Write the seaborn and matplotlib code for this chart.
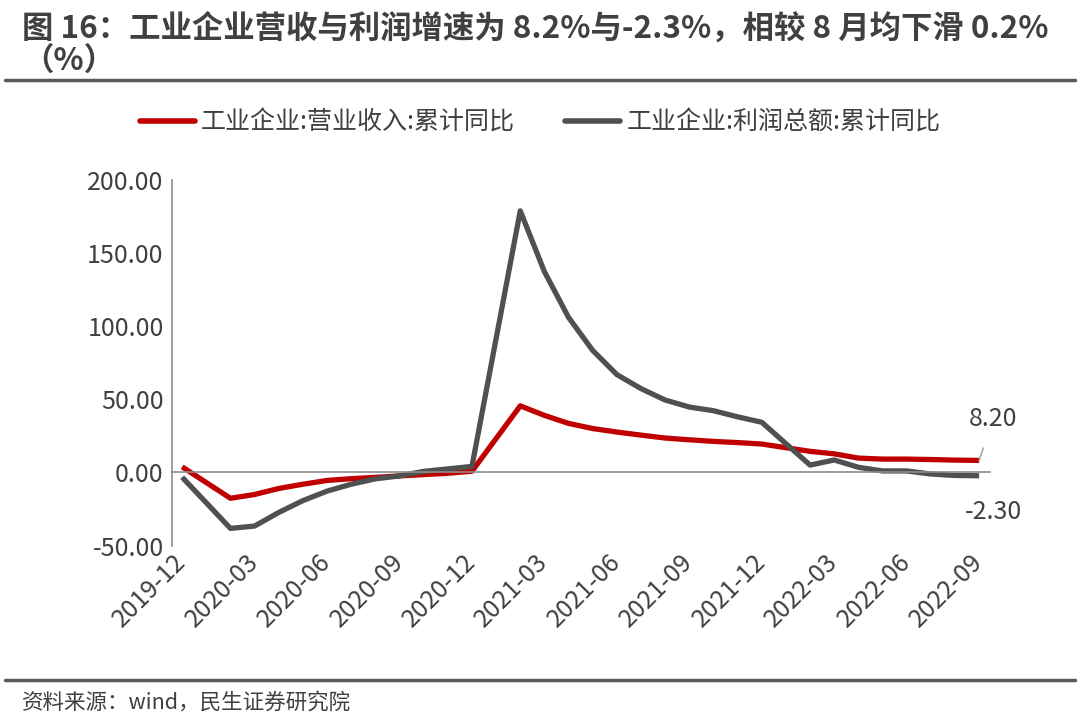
import numpy as np
import pandas as pd
import matplotlib
matplotlib.use("Agg")
import matplotlib.pyplot as plt
from matplotlib.lines import Line2D
import seaborn as sns

# ── Duomenys ────────────────────────────────────────────────────────────────
months = [
    "2019-12",
    "2020-02", "2020-03", "2020-04", "2020-05", "2020-06", "2020-07",
    "2020-08", "2020-09", "2020-10", "2020-11", "2020-12",
    "2021-02", "2021-03", "2021-04", "2021-05", "2021-06", "2021-07",
    "2021-08", "2021-09", "2021-10", "2021-11", "2021-12",
    "2022-02", "2022-03", "2022-04", "2022-05", "2022-06", "2022-07",
    "2022-08", "2022-09",
]
revenue = [
    3.8,
    -17.7, -15.1, -11.0, -8.1, -5.5, -4.3, -3.4, -2.4, -1.5, -0.6, 0.8,
    45.5, 39.0, 33.5, 30.0, 27.6, 25.5, 23.5, 22.3, 21.2, 20.4, 19.4,
    14.4, 12.7, 9.8, 9.1, 9.1, 8.8, 8.4, 8.2,
]
profit = [
    -3.3,
    -38.3, -36.7, -27.4, -19.3, -12.8, -8.1, -4.4, -2.4, 0.7, 2.4, 4.1,
    178.9, 137.3, 106.0, 83.4, 66.9, 57.3, 49.5, 44.7, 42.2, 38.0, 34.3,
    5.0, 8.5, 3.5, 1.0, 1.0, -1.1, -2.1, -2.3,
]
tick_labels = ["2019-12", "2020-03", "2020-06", "2020-09", "2020-12", "2021-03",
               "2021-06", "2021-09", "2021-12", "2022-03", "2022-06", "2022-09"]
series_names = ["工业企业:营业收入:累计同比", "工业企业:利润总额:累计同比"]

RED = "#C00000"
GREY = "#505050"
TXT = "#404040"


def month_pos(m):
    # kategorijų ašis: kiekvienas mėnuo = 1 vienetas nuo 2019-12
    y, mm = m.split("-")
    return (int(y) - 2019) * 12 + int(mm) - 12


df = pd.DataFrame({
    "pos": [month_pos(m) for m in months] * 2,
    "value": revenue + profit,
    "series": [series_names[0]] * len(months) + [series_names[1]] * len(months),
})

sns.set_theme(style="white")
plt.rcParams["font.family"] = ["Noto Sans CJK SC", "DejaVu Sans"]

fig = plt.figure(figsize=(10.8, 7.21), dpi=100)
ax = fig.add_axes([172 / 1080, 1 - 545.5 / 721, (990 - 172) / 1080, (545.5 - 180) / 721])

sns.lineplot(data=df, x="pos", y="value", hue="series",
             palette=[RED, GREY], linewidth=3.8, ax=ax, legend=False,
             solid_capstyle="butt")

ax.set_xlim(-0.42, 33.45)
ax.set_ylim(-50, 200)
ax.set_xlabel("")
ax.set_ylabel("")

# ── Ašys ────────────────────────────────────────────────────────────────────
for s in ["top", "right"]:
    ax.spines[s].set_visible(False)
ax.spines["left"].set_color("#8C8C8C")
ax.spines["left"].set_linewidth(1.2)
ax.spines["bottom"].set_position(("data", 0))
ax.spines["bottom"].set_color("#8C8C8C")
ax.spines["bottom"].set_linewidth(1.2)

ax.set_yticks([-50, 0, 50, 100, 150, 200])
ax.yaxis.set_major_formatter(plt.FuncFormatter(lambda v, _: f"{v:.2f}"))
ax.tick_params(axis="y", length=0, pad=6, labelsize=18, labelcolor=TXT)

ax.set_xticks(np.arange(2.5, 33, 3))
ax.set_xticklabels([])
ax.tick_params(axis="x", length=6, width=1.2, color="#8C8C8C", direction="out")

sec = ax.secondary_xaxis("bottom")
sec.set_xticks([month_pos(m) for m in tick_labels], tick_labels)
sec.spines["bottom"].set_visible(False)
sec.tick_params(length=0, pad=9, labelsize=18, labelcolor=TXT)
for lbl in sec.get_xticklabels():
    lbl.set_rotation(45)
    lbl.set_ha("right")
    lbl.set_va("center")
    lbl.set_rotation_mode("anchor")

# ── Paskutinių reikšmių žymos ───────────────────────────────────────────────
last = month_pos(months[-1])
ax.annotate(f"{revenue[-1]:.2f}", xy=(last, revenue[-1]), xytext=(10, 30),
            textcoords="offset points", ha="center", va="center",
            fontsize=18, color=TXT,
            arrowprops=dict(arrowstyle="-", color="#A6A6A6", lw=1.2,
                            shrinkA=10, shrinkB=0))
ax.annotate(f"{profit[-1]:.2f}", xy=(last, profit[-1]), xytext=(10, -26),
            textcoords="offset points", ha="center", va="center",
            fontsize=18, color=TXT)

# ── Legenda ─────────────────────────────────────────────────────────────────
handles = [Line2D([], [], color=RED, lw=4, solid_capstyle="round"),
           Line2D([], [], color=GREY, lw=4, solid_capstyle="round")]
fig.legend(handles, series_names, loc="center", bbox_to_anchor=(0.5, 1 - 123 / 721),
           ncol=2, frameon=False, fontsize=18, labelcolor=TXT,
           handlelength=2.2, handletextpad=0.25, columnspacing=2.0)

# ── Pavadinimas, linijos, šaltinis ──────────────────────────────────────────
fig.text(22 / 1080, 1 - 30 / 721,
         "图 16：工业企业营收与利润增速为 8.2%与-2.3%，相较 8 月均下滑 0.2%",
         ha="left", va="center", fontsize=22.6, fontweight="bold", color=TXT)
fig.text(22 / 1080, 1 - 62 / 721, "（%）",
         ha="left", va="center", fontsize=22.6, fontweight="bold", color=TXT)
fig.add_artist(Line2D([5 / 1080, 1075 / 1080], [1 - 80 / 721] * 2,
                      color="#595959", lw=2.5, transform=fig.transFigure))
fig.add_artist(Line2D([5 / 1080, 1075 / 1080], [1 - 680 / 721] * 2,
                      color="#595959", lw=2.5, transform=fig.transFigure))
fig.text(22 / 1080, 1 - 703 / 721, "资料来源：wind，民生证券研究院",
         ha="left", va="center", fontsize=15.5, color=TXT)

plt.savefig("out.png", dpi=100)
plt.close()
